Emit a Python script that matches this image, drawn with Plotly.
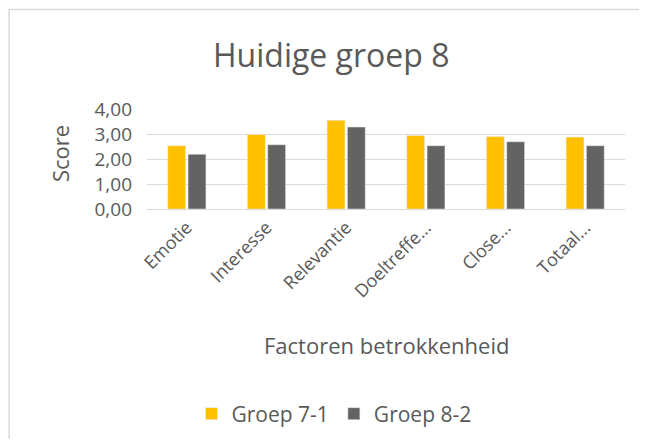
import plotly.graph_objects as go

categories = ["Emotie", "Interesse", "Relevantie", "Doeltreffe...", "Close...", "Totaal..."]
groep_7_1 = [2.53, 2.98, 3.55, 2.94, 2.90, 2.88]
groep_8_2 = [2.19, 2.57, 3.28, 2.53, 2.69, 2.53]
y_ticks = [0, 1, 2, 3, 4]

FONT = "Open Sans"
TXT = "#595959"

# page has an 8px body margin; figure coords = page coords - 8
W, H = 639, 431
L, T = 138.6, 101.3
R, B = W - 617.4, H - 200.7
pw, ph = W - L - R, H - T - B

fig = go.Figure()
fig.add_trace(go.Bar(x=categories, y=groep_7_1, name="Groep 7-1", marker_color="#FFC000"))
fig.add_trace(go.Bar(x=categories, y=groep_8_2, name="Groep 8-2", marker_color="#636363"))

fig.update_layout(
    width=W, height=H,
    margin=dict(l=L, r=R, t=T, b=B, autoexpand=False),
    paper_bgcolor="white", plot_bgcolor="white",
    separators=",.",
    barmode="group", bargap=0.49, bargroupgap=0.12,
    font=dict(family=FONT, color=TXT),
    showlegend=True,
    legend=dict(orientation="h", xref="container", yref="container",
                x=326 / W, xanchor="center",
                y=1 - 406 / H, yanchor="middle",
                font=dict(size=21, color=TXT), traceorder="normal"),
)
fig.update_yaxes(range=[0, 4], tickvals=y_ticks, tickformat=".2f",
                 showgrid=True, gridcolor="#D9D9D9", gridwidth=1,
                 zeroline=False, showline=False, ticks="",
                 tickfont=dict(size=19, color=TXT), ticklabelstandoff=14)
fig.update_xaxes(showgrid=False, showline=True, linecolor="#D9D9D9", linewidth=1,
                 ticks="", tickangle=-45, tickfont=dict(size=18, color=TXT))

# Title
fig.add_annotation(text="Huidige groep 8", xref="paper", yref="paper",
                   x=(323 - L) / pw, y=1 + (T - 47) / ph, showarrow=False,
                   xanchor="center", yanchor="middle",
                   font=dict(size=32, color=TXT, family=FONT))
# Y axis title
fig.add_annotation(text="Score", xref="paper", yref="paper",
                   x=(52 - L) / pw, y=(T + ph - 145.5) / ph, showarrow=False,
                   textangle=-90, xanchor="center", yanchor="middle",
                   font=dict(size=22, color=TXT, family=FONT))
# X axis title
fig.add_annotation(text="Factoren betrokkenheid", xref="paper", yref="paper",
                   x=(378 - L) / pw, y=-(336 - (T + ph)) / ph, showarrow=False,
                   xanchor="center", yanchor="middle",
                   font=dict(size=22, color=TXT, family=FONT))
# Chart border (only top and left edges fall inside the crop)
fig.add_shape(type="path", xref="paper", yref="paper",
              path="M {x0},{y0} L {x0},{y1} L {x1},{y1}".format(
                  x0=(0.5 - L) / pw, y0=-(H - T - ph) / ph,
                  y1=1 + (T - 2.5) / ph, x1=(W - 1 - L) / pw),
              line=dict(color="#D9D9D9", width=1.5), layer="below")

fig.write_html("out.html")
